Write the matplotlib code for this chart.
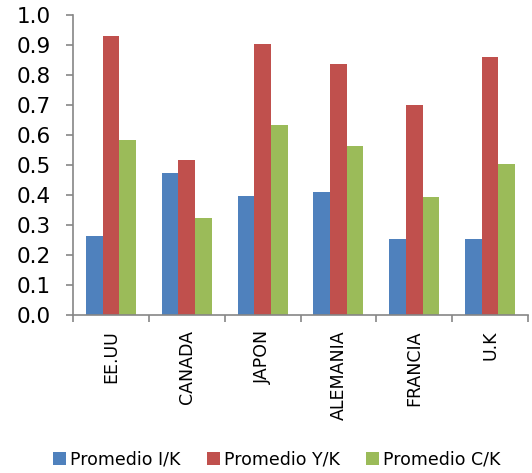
import numpy as np
import matplotlib.pyplot as plt

# promedios por pais
paises = ["EE.UU", "CANADA", "JAPON", "ALEMANIA", "FRANCIA", "U.K"]
prom_ik = [0.264, 0.472, 0.397, 0.411, 0.253, 0.252]
prom_yk = [0.931, 0.517, 0.904, 0.838, 0.702, 0.860]
prom_ck = [0.583, 0.324, 0.633, 0.564, 0.392, 0.504]

series = [
    ("Promedio I/K", prom_ik, "#4F81BD"),
    ("Promedio Y/K", prom_yk, "#C0504D"),
    ("Promedio C/K", prom_ck, "#9BBB59"),
]

plt.rcParams["font.family"] = ["DejaVu Sans"]

fig = plt.figure(figsize=(5.32, 4.73), dpi=100)
ax = fig.add_axes([0.1372, 0.334, 0.8553, 0.634])

x = np.arange(len(paises))
w = 0.22
for i, (nombre, vals, color) in enumerate(series):
    ax.bar(x + (i - 1) * w, vals, width=w, color=color, linewidth=0,
           label=nombre, zorder=2)

ax.set_xlim(-0.5, len(paises) - 0.5)
ax.set_ylim(0, 1.0)
ax.set_yticks(np.arange(0, 1.01, 0.1))
ax.set_yticklabels([f"{v:.1f}" for v in np.arange(0, 1.01, 0.1)], fontsize=15.5)

# etiquetas en el centro, marcas en los limites de cada categoria
ax.set_xticks(x)
ax.set_xticklabels(paises, rotation=90, fontsize=12.5)
ax.tick_params(axis="x", which="major", length=0, pad=11)
ax.set_xticks(np.arange(-0.5, len(paises), 1.0), minor=True)
ax.tick_params(axis="x", which="minor", length=5, width=1.2, color="#868686")
ax.tick_params(axis="y", length=5, width=1.2, color="#868686", pad=11)

for s in ["top", "right"]:
    ax.spines[s].set_visible(False)
for s in ["left", "bottom"]:
    ax.spines[s].set_color("#868686")
    ax.spines[s].set_linewidth(1.2)

fig.legend(loc="center", bbox_to_anchor=(0.52, 0.028), ncol=3, frameon=False,
           fontsize=12.5, handlelength=0.75, handleheight=0.75,
           handletextpad=0.25, columnspacing=1.5)

fig.savefig("out.png", dpi=100)
